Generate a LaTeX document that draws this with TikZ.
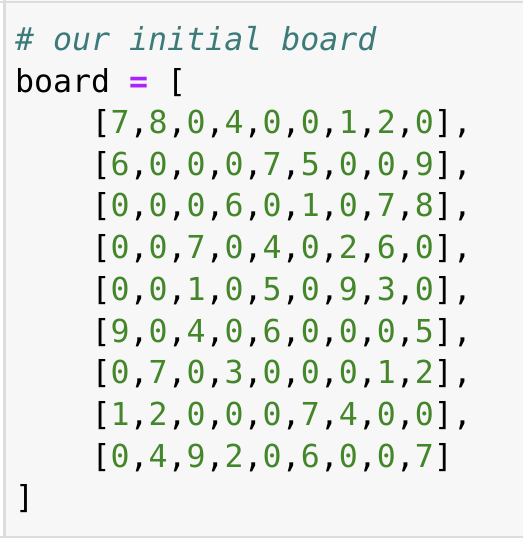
\documentclass[tikz,border=0pt]{standalone}
\usepackage{fontspec}
\setmonofont{DejaVu Sans Mono}
\definecolor{bgc}{HTML}{F7F7F7}
\definecolor{edgec}{HTML}{DDDDDD}
\definecolor{cmt}{HTML}{3D7B7B}
\definecolor{num}{HTML}{44862A}
\definecolor{op}{HTML}{AA22FF}
\newcommand{\nm}[1]{\textcolor{num}{#1}}
\newcommand{\cm}{,}
\begin{document}
\begin{tikzpicture}[x=1pt,y=-1pt,
  codeline/.style={anchor=base west,inner sep=0pt,outer sep=0pt,font=\fontsize{31.6}{38}\selectfont\ttfamily}]
\useasboundingbox (0,0) rectangle (523,538);
\fill[white] (0,0) rectangle (523,538);
\fill[bgc] (3,0) rectangle (523,538);
\draw[edgec,line width=2.2pt] (0,2) -- (523,2);
\draw[edgec,line width=2.2pt] (0,537) -- (523,537);
\draw[edgec,line width=2.2pt] (4.5,0) -- (4.5,538);
\node[codeline,text=cmt] (c) at (15,50) {\itshape \# our initial board};
\node[codeline] (b) at (15,92) {board \textcolor{op}{\bfseries =} [};
\node[codeline] (r1) at (91.5,133.5) {[\nm{7},\nm{8},\nm{0},\nm{4},\nm{0},\nm{0},\nm{1},\nm{2},\nm{0}],};
\node[codeline] (r2) at (91.5,175.2) {[\nm{6},\nm{0},\nm{0},\nm{0},\nm{7},\nm{5},\nm{0},\nm{0},\nm{9}],};
\node[codeline] (r3) at (91.5,216.9) {[\nm{0},\nm{0},\nm{0},\nm{6},\nm{0},\nm{1},\nm{0},\nm{7},\nm{8}],};
\node[codeline] (r4) at (91.5,258.6) {[\nm{0},\nm{0},\nm{7},\nm{0},\nm{4},\nm{0},\nm{2},\nm{6},\nm{0}],};
\node[codeline] (r5) at (91.5,300.3) {[\nm{0},\nm{0},\nm{1},\nm{0},\nm{5},\nm{0},\nm{9},\nm{3},\nm{0}],};
\node[codeline] (r6) at (91.5,342.0) {[\nm{9},\nm{0},\nm{4},\nm{0},\nm{6},\nm{0},\nm{0},\nm{0},\nm{5}],};
\node[codeline] (r7) at (91.5,383.7) {[\nm{0},\nm{7},\nm{0},\nm{3},\nm{0},\nm{0},\nm{0},\nm{1},\nm{2}],};
\node[codeline] (r8) at (91.5,425.4) {[\nm{1},\nm{2},\nm{0},\nm{0},\nm{0},\nm{7},\nm{4},\nm{0},\nm{0}],};
\node[codeline] (r9) at (91.5,467.1) {[\nm{0},\nm{4},\nm{9},\nm{2},\nm{0},\nm{6},\nm{0},\nm{0},\nm{7}]};
\node[codeline] (e) at (15,508.8) {]};
\end{tikzpicture}
\end{document}
